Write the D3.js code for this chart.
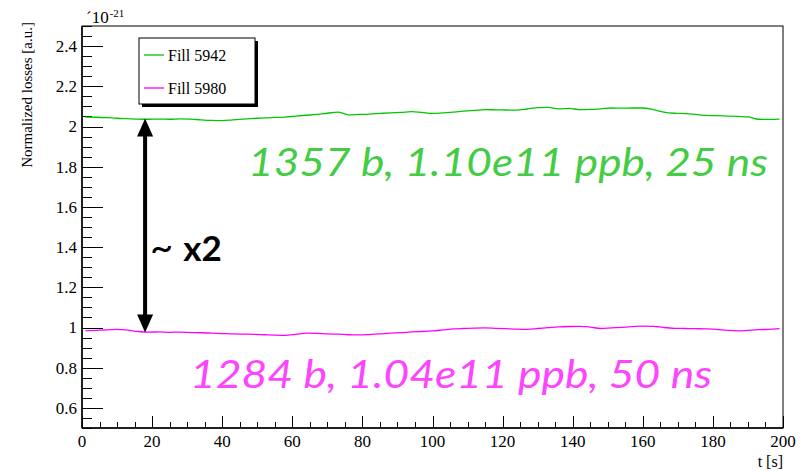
<!DOCTYPE html>
<html><head><meta charset="utf-8">
<script src="https://cdn.jsdelivr.net/npm/d3@7"></script>
<style>body{margin:0;background:#fff}svg{display:block}.serif{font-family:"Liberation Serif","DejaVu Serif",Tinos,"Times New Roman",serif}</style>
</head><body>
<script>
const times = [1,4,7,10,13,16,19,22,25,28,31,34,37,40,43,46,49,52,55,58,61,64,67,70,73,76,79,82,85,88,91,94,97,100,103,106,109,112,115,118,121,124,127,130,133,136,139,142,145,148,151,154,157,160,163,166,169,172,175,178,181,184,187,190,193,196,199];
const fill5942 = [2.047,2.046,2.044,2.041,2.039,2.037,2.036,2.037,2.036,2.038,2.037,2.033,2.030,2.029,2.033,2.037,2.040,2.043,2.045,2.047,2.052,2.056,2.060,2.066,2.072,2.058,2.060,2.062,2.065,2.068,2.070,2.074,2.070,2.065,2.068,2.072,2.076,2.080,2.084,2.083,2.082,2.081,2.087,2.094,2.095,2.088,2.090,2.084,2.085,2.088,2.092,2.091,2.092,2.092,2.084,2.072,2.066,2.064,2.060,2.055,2.054,2.052,2.050,2.048,2.036,2.035,2.037];
const fill5980 = [0.984,0.986,0.988,0.991,0.987,0.980,0.977,0.978,0.976,0.977,0.975,0.974,0.972,0.970,0.968,0.967,0.966,0.964,0.962,0.961,0.966,0.972,0.971,0.968,0.967,0.964,0.963,0.965,0.968,0.972,0.974,0.978,0.980,0.983,0.988,0.993,0.995,0.997,0.998,0.996,0.994,0.992,0.991,0.995,0.999,1.003,1.005,1.006,1.002,0.995,0.998,1.001,1.004,1.007,1.006,1.000,0.996,0.995,0.994,0.993,0.991,0.986,0.983,0.986,0.989,0.991,0.994];
const seriesNames = ["Fill 5942","Fill 5980"];
const seriesColors = ["#00c800","#ff00ff"];
const xTicks = [0,20,40,60,80,100,120,140,160,180,200];
const yTicks = [0.6,0.8,1,1.2,1.4,1.6,1.8,2,2.2,2.4];
const annotations = ["1357 b, 1.10e11 ppb, 25 ns","1284 b, 1.04e11 ppb, 50 ns"];

const W=807,H=471;
const m={l:82,r:24,t:26,b:43};
const svg=d3.select("body").append("svg").attr("width",W).attr("height",H);
const x=d3.scaleLinear().domain([0,200]).range([m.l,W-m.r]);
const y=d3.scaleLinear().domain([0.5,2.5]).range([H-m.b,m.t]);

// frame
svg.append("rect").attr("x",x(0)).attr("y",y(2.5)).attr("width",x(200)-x(0)).attr("height",y(0.5)-y(2.5))
  .attr("fill","none").attr("stroke","#000").attr("stroke-width",1);

// y ticks
const yMinor=d3.range(0.5,2.5001,0.05);
svg.append("g").selectAll("line").data(yMinor).join("line")
  .attr("x1",x(0)).attr("x2",d=>x(0)+(yTicks.some(t=>Math.abs(t-d)<1e-6)?21:10))
  .attr("y1",d=>Math.round(y(d))+0.5).attr("y2",d=>Math.round(y(d))+0.5)
  .attr("stroke","#000").attr("stroke-width",1);
svg.append("g").selectAll("text").data(yTicks).join("text").attr("class","serif")
  .attr("x",x(0)-5).attr("y",d=>y(d)).attr("dy","0.35em").attr("text-anchor","end")
  .attr("font-size",17).text(d=>d3.format("")(d));
// x ticks
const xMinor=d3.range(0,200.001,5);
svg.append("g").selectAll("line").data(xMinor).join("line")
  .attr("x1",d=>Math.round(x(d))+0.5).attr("x2",d=>Math.round(x(d))+0.5)
  .attr("y1",y(0.5)).attr("y2",d=>y(0.5)-(d%20===0?12:6))
  .attr("stroke","#000").attr("stroke-width",1);
svg.append("g").selectAll("text").data(xTicks).join("text").attr("class","serif")
  .attr("x",d=>x(d)).attr("y",447).attr("text-anchor","middle")
  .attr("font-size",17).text(d=>d);
svg.append("line").attr("x1",x(0)).attr("x2",x(200)).attr("y1",y(0.5)).attr("y2",y(0.5)).attr("stroke","#000").attr("stroke-width",1.5);
svg.append("line").attr("x1",x(0)).attr("x2",x(0)).attr("y1",y(0.5)).attr("y2",y(2.5)).attr("stroke","#000").attr("stroke-width",1.5);

// titles
svg.append("text").attr("class","serif").attr("x",W-m.r).attr("y",467).attr("text-anchor","end")
  .attr("font-size",16).text("t [s]");
svg.append("text").attr("class","serif").attr("transform",`translate(32,${y(2.5)-4}) rotate(-90)`).attr("text-anchor","end")
  .attr("font-size",15).text("Normalized losses [a.u.]");
const ex=svg.append("text").attr("class","serif").attr("x",86).attr("y",23).attr("font-size",17);
ex.append("tspan").text("´10");
ex.append("tspan").attr("font-size",11).attr("dy",-6).attr("dx",1).text("-21");

// lines
const line=d3.line().x((d,i)=>x(times[i])).y(d=>y(d)).curve(d3.curveMonotoneX);
[fill5942,fill5980].forEach((s,k)=>{
  svg.append("path").datum(s).attr("d",line).attr("fill","none")
    .attr("stroke",seriesColors[k]).attr("stroke-width",1.3);
});

// legend
const lg={x:139,y:38,w:116,h:66};
svg.append("rect").attr("x",lg.x+3).attr("y",lg.y+3).attr("width",lg.w).attr("height",lg.h).attr("fill","#000");
svg.append("rect").attr("x",lg.x).attr("y",lg.y).attr("width",lg.w).attr("height",lg.h).attr("fill","#fff").attr("stroke","#000");
seriesNames.forEach((n,k)=>{
  const yy=lg.y+17+k*33;
  svg.append("line").attr("x1",lg.x+5).attr("x2",lg.x+25).attr("y1",yy).attr("y2",yy).attr("stroke",seriesColors[k]).attr("stroke-width",1.3);
  svg.append("text").attr("class","serif").attr("x",lg.x+29).attr("y",yy).attr("dy","0.35em").attr("font-size",16).text(n);
});

// arrow
const ax=x(18), yTop=y(2.04), yBot=y(0.975);
svg.append("line").attr("x1",ax).attr("x2",ax).attr("y1",yTop+15).attr("y2",yBot-15).attr("stroke","#000").attr("stroke-width",4);
svg.append("path").attr("d",`M${ax},${yTop} L${ax-8},${yTop+18} L${ax+8},${yTop+18} Z`).attr("fill","#000");
svg.append("path").attr("d",`M${ax},${yBot} L${ax-8},${yBot-18} L${ax+8},${yBot-18} Z`).attr("fill","#000");
const x2=svg.append("text").attr("x",ax+5).attr("y",y(1.33)).attr("font-family","Lato, 'Open Sans', sans-serif").attr("font-weight","bold").attr("font-size",35);
x2.append("tspan").attr("font-weight","normal").attr("font-size",40).text("~");
x2.append("tspan").attr("dx",10).text("x2");

// annotations
svg.append("text").attr("x",248).attr("y",176).attr("font-family","Lato, 'Open Sans', sans-serif").attr("font-style","italic")
  .attr("font-size",38).attr("fill","#44cc44").attr("textLength",520).attr("lengthAdjust","spacingAndGlyphs").text(annotations[0]);
svg.append("text").attr("x",190).attr("y",388).attr("font-family","Lato, 'Open Sans', sans-serif").attr("font-style","italic")
  .attr("font-size",38).attr("fill","#ff44ff").attr("textLength",522).attr("lengthAdjust","spacingAndGlyphs").text(annotations[1]);
</script>
</body></html>
